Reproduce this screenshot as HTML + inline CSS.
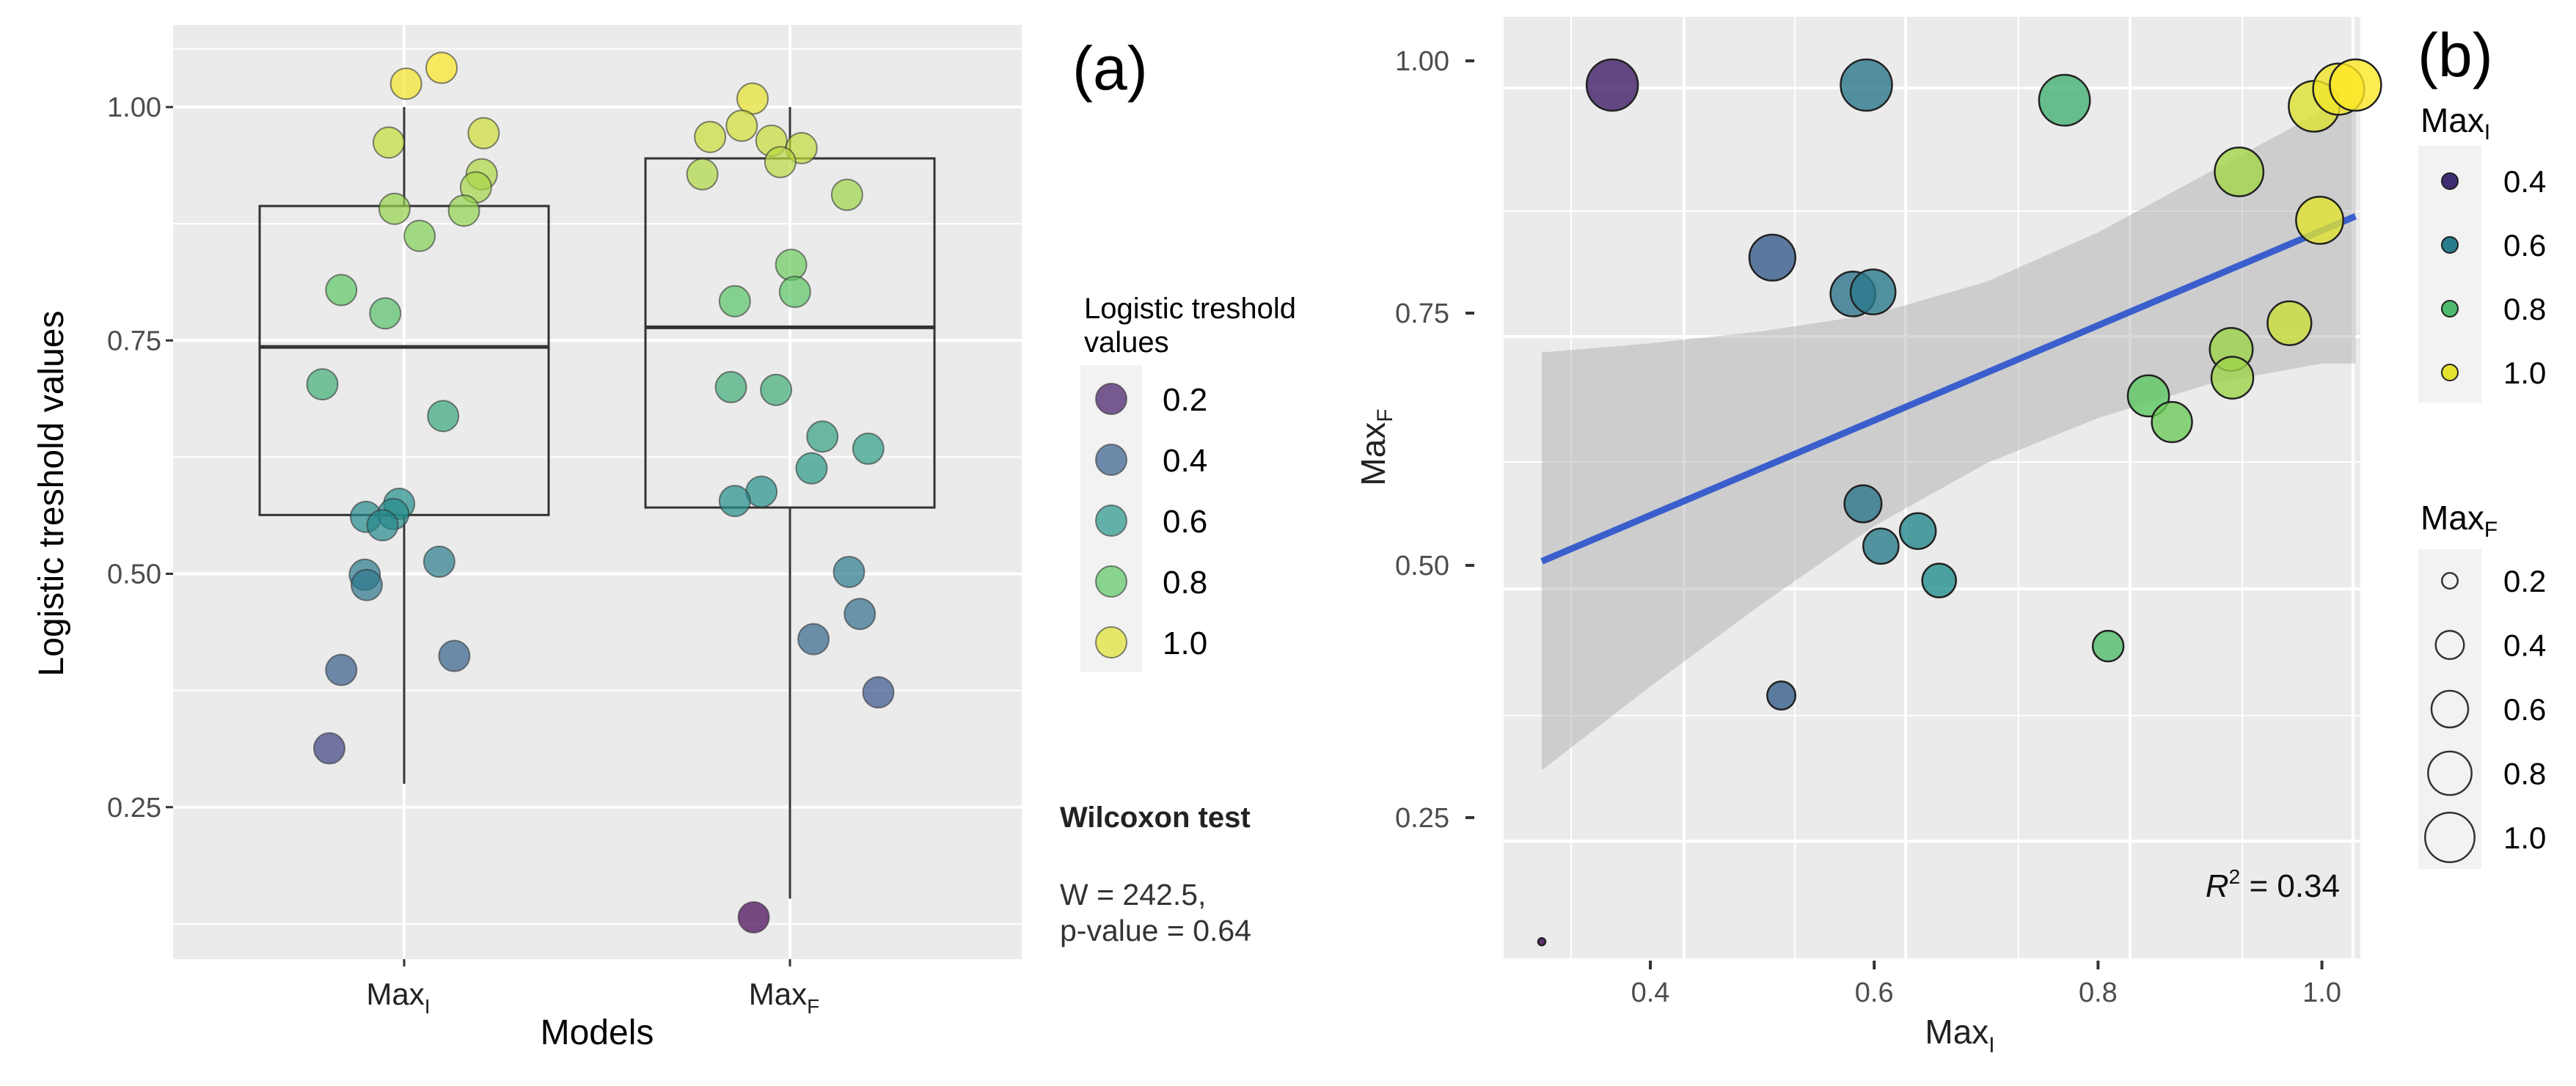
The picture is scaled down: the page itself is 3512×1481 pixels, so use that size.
<!DOCTYPE html>
<html><head><meta charset="utf-8">
<style>
html,body{margin:0;padding:0;background:#fff;}
svg{display:block;font-family:"Liberation Sans",sans-serif;}
</style></head>
<body>
<svg id="fig" width="3512" height="1481" viewBox="0 0 3512 1481" xmlns="http://www.w3.org/2000/svg">
  <g id="panelA"></g>
  <g id="panelB"></g>
</svg>
<script>
// ---------- Panel (a) data ----------
const aCategories = ["MaxI", "MaxF"];
const aBoxQ1 = [0.563, 0.571];
const aBoxMed = [0.743, 0.764];
const aBoxQ3 = [0.894, 0.945];
const aWhiskLo = [0.275, 0.152];
const aWhiskHi = [1.0, 1.0];
const aYTicks = [0.25, 0.50, 0.75, 1.00];
const aYTickLabels = ["0.25", "0.50", "0.75", "1.00"];
// jitter offsets (in category-spacing units) and values
const aMaxIJitter = [0.005,0.097,-0.040,0.206,0.201,0.186,-0.025,0.155,0.040,-0.163,-0.049,-0.212,0.101,-0.013,-0.099,-0.028,-0.056,-0.102,-0.097,0.091,0.130,-0.163,-0.194];
const aMaxIValues = [1.025,1.042,0.962,0.972,0.928,0.914,0.891,0.889,0.862,0.804,0.779,0.703,0.669,0.575,0.561,0.564,0.552,0.499,0.488,0.513,0.412,0.397,0.313];
const aMaxFJitter = [-0.097,-0.207,-0.125,-0.048,0.030,-0.025,-0.227,0.148,0.003,-0.143,0.013,-0.153,-0.036,0.084,0.203,0.056,-0.074,-0.143,0.153,0.181,0.061,0.229,-0.094];
const aMaxFValues = [1.009,0.968,0.980,0.964,0.956,0.941,0.928,0.906,0.831,0.792,0.802,0.700,0.697,0.647,0.634,0.613,0.588,0.578,0.502,0.457,0.430,0.373,0.132];
const aLegendValues = [0.2, 0.4, 0.6, 0.8, 1.0];

// ---------- Panel (b) data ----------
const bMaxI = [0.366,0.593,0.770,0.993,1.015,1.030,0.926,0.998,0.509,0.581,0.599,0.971,0.919,0.920,0.845,0.866,0.590,0.639,0.606,0.658,0.809,0.517,0.303];
const bMaxF = [0.976,0.976,0.961,0.955,0.972,0.976,0.890,0.842,0.805,0.769,0.771,0.740,0.714,0.686,0.668,0.642,0.561,0.534,0.519,0.485,0.420,0.371,0.127];
const bFitX = [0.303, 1.030];
const bFitY = [0.504, 0.846];
const bCiX = [0.303,0.40,0.50,0.60,0.70,0.80,0.90,1.00,1.030];
const bCiLo = [0.297,0.380,0.462,0.539,0.601,0.646,0.680,0.700,0.700];
const bCiHi = [0.711,0.720,0.732,0.749,0.781,0.830,0.890,0.950,0.968];
const bXTicks = [0.4,0.6,0.8,1.0];
const bXTickLabels = ["0.4","0.6","0.8","1.0"];
const bYTicks = [0.25,0.50,0.75,1.00];
const bYTickLabels = ["0.25","0.50","0.75","1.00"];
const bColorLegend = [0.4,0.6,0.8,1.0];
const bSizeLegend = [0.2,0.4,0.6,0.8,1.0];

const NS = "http://www.w3.org/2000/svg";
function mk(parent, tag, attrs, text){
  const e = document.createElementNS(NS, tag);
  for (const k in attrs) e.setAttribute(k, attrs[k]);
  if (text !== undefined) e.textContent = text;
  parent.appendChild(e);
  return e;
}
const stops = [[0,[68,1,84]],[0.25,[59,82,139]],[0.5,[33,145,140]],[0.75,[94,201,98]],[1,[253,231,37]]];
function viridis(t){
  t = Math.max(0, Math.min(1, t));
  for (let i=0;i<stops.length-1;i++){
    const [t0,c0]=stops[i],[t1,c1]=stops[i+1];
    if (t<=t1){const f=(t-t0)/(t1-t0);
      return "rgb("+c0.map((c,j)=>Math.round(c+(c1[j]-c)*f)).join(",")+")";}
  }
  return "rgb(253,231,37)";
}

// ================= PANEL A =================
const A = document.getElementById("panelA");
const aL=236, aR=1393, aT=34, aB=1308;
const aY = v => 146 + (1 - v) * 1273;
const aCatX = [551, 1077];
const aBoxHalf = 197;
const aColor = v => viridis((v - 0.13) / (1.04 - 0.13));

let el = mk(A, "rect", {x:aL, y:aT, width:aR-aL, height:aB-aT, fill:"#ebebeb"});


[0.125,0.375,0.625,0.875,1.0625].forEach(v=>{
  const l = mk(A,"line",{x1:aL,x2:aR,y1:aY(v),y2:aY(v),stroke:"#fff","stroke-width":2});
  
  
});
aYTicks.forEach((v,i)=>{
  const l = mk(A,"line",{x1:aL,x2:aR,y1:aY(v),y2:aY(v),stroke:"#fff","stroke-width":4});
  
  
  const t = mk(A,"line",{x1:aL-10,x2:aL,y1:aY(v),y2:aY(v),stroke:"#333","stroke-width":3});
  
  
  const tx = mk(A,"text",{x:aL-16,y:aY(v)+13,"text-anchor":"end","font-size":38,fill:"#4d4d4d"},aYTickLabels[i]);
  
  
});
aCatX.forEach(x=>{
  const l = mk(A,"line",{x1:x,x2:x,y1:aT,y2:aB,stroke:"#fff","stroke-width":4});
  
  
  const t = mk(A,"line",{x1:x,x2:x,y1:aB,y2:aB+10,stroke:"#333","stroke-width":3});
  
  
});
aCategories.forEach((c,i)=>{
  const x = aCatX[i];
  const g = mk(A,"g",{});
  
  
  mk(g,"line",{x1:x,x2:x,y1:aY(aWhiskHi[i]),y2:aY(aBoxQ3[i]),stroke:"#333","stroke-width":3});
  mk(g,"line",{x1:x,x2:x,y1:aY(aBoxQ1[i]),y2:aY(aWhiskLo[i]),stroke:"#333","stroke-width":3});
  mk(g,"rect",{x:x-aBoxHalf,y:aY(aBoxQ3[i]),width:2*aBoxHalf,height:aY(aBoxQ1[i])-aY(aBoxQ3[i]),fill:"none",stroke:"#333","stroke-width":3});
  mk(g,"line",{x1:x-aBoxHalf,x2:x+aBoxHalf,y1:aY(aBoxMed[i]),y2:aY(aBoxMed[i]),stroke:"#333","stroke-width":5});
});
[[aMaxIJitter,aMaxIValues,0],[aMaxFJitter,aMaxFValues,1]].forEach(([jit,vals,ci])=>{
  vals.forEach((v,k)=>{
    const p = mk(A,"circle",{cx:aCatX[ci] + jit[k]*526, cy:aY(v), r:21, fill:aColor(v), "fill-opacity":0.7, stroke:"#333","stroke-opacity":0.6,"stroke-width":2});
    
    
  });
});
aCategories.forEach((c,i)=>{
  const t = mk(A,"text",{x:aCatX[i]-8,y:1370,"text-anchor":"middle","font-size":42,fill:"#222"});
  
  
  mk(t,"tspan",{},"Max");
  mk(t,"tspan",{dy:12,"font-size":28},c.slice(3));
});
el = mk(A,"text",{x:814,y:1424,"text-anchor":"middle","font-size":48,fill:"#000"},"Models");


el = mk(A,"text",{x:0,y:0,"text-anchor":"middle","font-size":48,fill:"#000",transform:"translate(86,673) rotate(-90)"},"Logistic treshold values");


el = mk(A,"text",{x:1462,y:122,"font-size":84,fill:"#000"},"(a)");


const legA = mk(A,"g",{});


mk(legA,"text",{x:1478,y:434,"font-size":40,fill:"#000"},"Logistic treshold");
mk(legA,"text",{x:1478,y:480,"font-size":40,fill:"#000"},"values");
mk(legA,"rect",{x:1473,y:498,width:84,height:418,fill:"#f2f2f2"});
aLegendValues.forEach((v,i)=>{
  const y = 544 + i*83;
  const c = mk(legA,"circle",{cx:1515,cy:y,r:21,fill:aColor(v),"fill-opacity":0.7,stroke:"#333","stroke-opacity":0.6,"stroke-width":2});
  
  
  mk(legA,"text",{x:1585,y:y+16,"font-size":44,fill:"#000"},v.toFixed(1));
});
el = mk(A,"text",{x:1445,y:1128,"font-size":40,"font-weight":"bold",fill:"#222"},"Wilcoxon test");


el = mk(A,"text",{x:1445,y:1234,"font-size":41,fill:"#333"},"W = 242.5,");


el = mk(A,"text",{x:1445,y:1283,"font-size":41,fill:"#333"},"p-value = 0.64");



// ================= PANEL B =================
const B = document.getElementById("panelB");
const bL=2050, bR=3218, bT=23, bB=1307;
const bX = v => 2250 + (v - 0.4) * 1526;
const bY = v => 83 + (1 - v) * 1376;
const bColor = v => viridis((v - 0.30) / (1.03 - 0.30));
const bR_ = v => Math.sqrt(25 + Math.max(0,(v - 0.127)) / (0.976 - 0.127) * (35*35 - 25));

el = mk(B,"rect",{x:bL,y:bT,width:bR-bL,height:bB-bT,fill:"#ebebeb"});


[120,288,459,630,803,976,1147].forEach((y,i)=>{
  const l = mk(B,"line",{x1:bL,x2:bR,y1:y,y2:y,stroke:"#fff","stroke-width":i%2===0?4:2});
  
  
});
[2142,2296,2447,2598,2752,2904,3057,3208].forEach((x,i)=>{
  const l = mk(B,"line",{x1:x,x2:x,y1:bT,y2:bB,stroke:"#fff","stroke-width":i%2===0?2:4});
  
  
});
let pts = bCiX.map((x,i)=>bX(x)+","+bY(bCiHi[i]));
pts = pts.concat(bCiX.slice().reverse().map((x,i)=>bX(x)+","+bY(bCiLo[bCiX.length-1-i])));
el = mk(B,"polygon",{points:pts.join(" "),fill:"#a8a8a8","fill-opacity":0.45});


el = mk(B,"line",{x1:bX(bFitX[0]),y1:bY(bFitY[0]),x2:bX(bFitX[1]),y2:bY(bFitY[1]),stroke:"#3a5fcd","stroke-width":9});


bMaxI.forEach((x,i)=>{
  const c = mk(B,"circle",{cx:bX(x),cy:bY(bMaxF[i]),r:bR_(bMaxF[i]),fill:bColor(x),"fill-opacity":0.8,stroke:"#222","stroke-width":2.5});
  
  
});
bXTicks.forEach((v,i)=>{
  const t = mk(B,"line",{x1:bX(v),x2:bX(v),y1:1310,y2:1322,stroke:"#333","stroke-width":4});
  
  
  const tx = mk(B,"text",{x:bX(v),y:1366,"text-anchor":"middle","font-size":38,fill:"#4d4d4d"},bXTickLabels[i]);
  
  
});
bYTicks.forEach((v,i)=>{
  const t = mk(B,"line",{x1:1998,x2:2010,y1:bY(v),y2:bY(v),stroke:"#333","stroke-width":4});
  
  
  const tx = mk(B,"text",{x:1976,y:bY(v)+13,"text-anchor":"end","font-size":38,fill:"#4d4d4d"},bYTickLabels[i]);
  
  
});
el = mk(B,"text",{x:2672,y:1423,"text-anchor":"middle","font-size":46,fill:"#222"});


mk(el,"tspan",{},"Max"); mk(el,"tspan",{dy:12,"font-size":30},"I");
el = mk(B,"text",{x:0,y:0,"text-anchor":"middle","font-size":46,fill:"#222",transform:"translate(1888,610) rotate(-90)"});


mk(el,"tspan",{},"Max"); mk(el,"tspan",{dy:10,"font-size":30},"F");
el = mk(B,"text",{x:3190,y:1223,"text-anchor":"end","font-size":44,fill:"#111"});


mk(el,"tspan",{"font-style":"italic"},"R");
mk(el,"tspan",{dy:-18,"font-size":28},"2");
mk(el,"tspan",{dy:18}," = 0.34");
el = mk(B,"text",{x:3296,y:104,"font-size":84,fill:"#000"},"(b)");


const legB1 = mk(B,"g",{});


el = mk(legB1,"text",{x:3300,y:180,"font-size":46,fill:"#000"}); mk(el,"tspan",{},"Max"); mk(el,"tspan",{dy:10,"font-size":30},"I");
mk(legB1,"rect",{x:3297,y:199,width:86,height:350,fill:"#f2f2f2"});
bColorLegend.forEach((v,i)=>{
  const y = 247 + i*87;
  const c = mk(legB1,"circle",{cx:3340,cy:y,r:11,fill:bColor(v),stroke:"#222","stroke-width":2});
  
  
  mk(legB1,"text",{x:3413,y:y+15,"font-size":42,fill:"#000"},v.toFixed(1));
});
const legB2 = mk(B,"g",{});


el = mk(legB2,"text",{x:3300,y:722,"font-size":46,fill:"#000"}); mk(el,"tspan",{},"Max"); mk(el,"tspan",{dy:10,"font-size":30},"F");
mk(legB2,"rect",{x:3297,y:749,width:86,height:436,fill:"#f2f2f2"});
bSizeLegend.forEach((v,i)=>{
  const y = 792 + i*87.5;
  const c = mk(legB2,"circle",{cx:3340,cy:y,r:bR_(v)*0.95,fill:"none",stroke:"#333","stroke-width":2.5});
  
  
  mk(legB2,"text",{x:3413,y:y+15,"font-size":42,fill:"#000"},v.toFixed(1));
});
</script>
</body></html>
